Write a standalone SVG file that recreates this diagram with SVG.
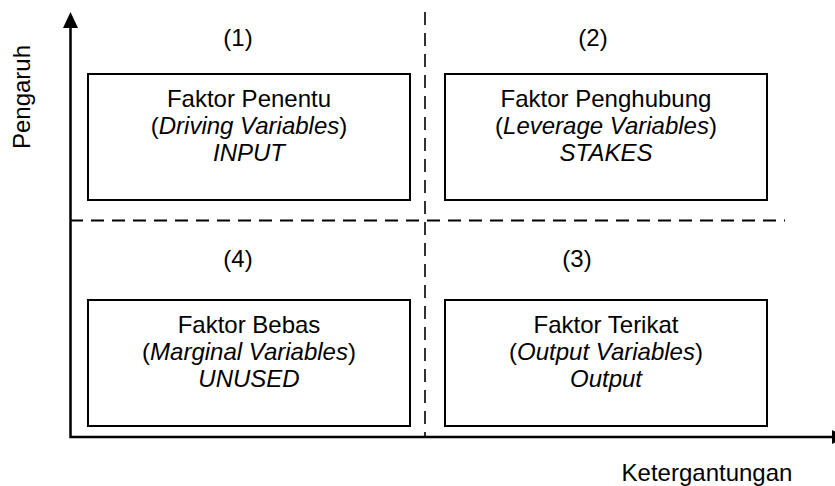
<svg xmlns="http://www.w3.org/2000/svg" width="835" height="486" viewBox="0 0 835 486">
<style>
text{font-family:"Liberation Sans",Arial,sans-serif;font-size:24px;fill:#000;text-anchor:middle}
.it{font-style:italic}
.box{fill:#fff;stroke:#000;stroke-width:2}
.axis{stroke:#000;stroke-width:2.5;fill:none}
.dash{stroke:#000;fill:none;stroke-dasharray:13 8}
</style>
<rect width="835" height="486" fill="#fff"/>
<g id="connectors">
<line class="dash" x1="70" y1="220.5" x2="785" y2="220.5" stroke-width="2"/>
<line class="dash" x1="425" y1="12" x2="425" y2="437" stroke-width="1.6"/>
<polyline class="axis" points="70.5,26 70.5,437 834,437"/>
<polygon points="70.5,12 63,28 78,28" fill="#000"/>
<polygon points="832,430 832,444 847,437" fill="#000"/>
</g>
<g id="axis-labels">
<text x="707" y="481">Ketergantungan</text>
<text transform="translate(30,97) rotate(-90)" x="0" y="0">Pengaruh</text>
</g>
<g id="quadrant-labels">
<text x="238" y="46">(1)</text>
<text x="593" y="46">(2)</text>
<text x="577" y="267">(3)</text>
<text x="238" y="267">(4)</text>
</g>
<g id="node1">
<rect class="box" x="88" y="74" width="322" height="126"/>
<text x="249" y="107">Faktor Penentu</text>
<text x="249" y="134">(<tspan class="it">Driving Variables</tspan>)</text>
<text x="249" y="161" class="it">INPUT</text>
</g>
<g id="node2">
<rect class="box" x="445" y="74" width="322" height="126"/>
<text x="606" y="107">Faktor Penghubung</text>
<text x="606" y="134">(<tspan class="it">Leverage Variables</tspan>)</text>
<text x="606" y="161" class="it">STAKES</text>
</g>
<g id="node4">
<rect class="box" x="88" y="300" width="322" height="126"/>
<text x="249" y="333">Faktor Bebas</text>
<text x="249" y="360">(<tspan class="it">Marginal Variables</tspan>)</text>
<text x="249" y="387" class="it">UNUSED</text>
</g>
<g id="node3">
<rect class="box" x="445" y="300" width="322" height="126"/>
<text x="606" y="333">Faktor Terikat</text>
<text x="606" y="360">(<tspan class="it">Output Variables</tspan>)</text>
<text x="606" y="387" class="it">Output</text>
</g>
</svg>
